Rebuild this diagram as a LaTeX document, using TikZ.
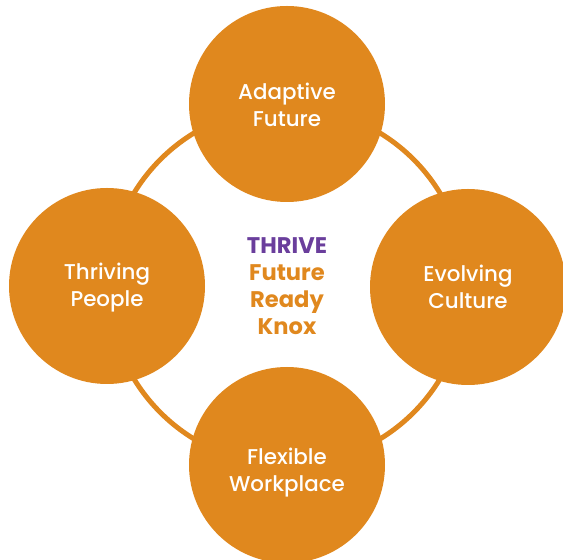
\documentclass[tikz,border=0pt]{standalone}
\usepackage{fontspec}
\setmainfont{Poppins}
\newfontfamily\medfont{Poppins Medium}
\usepackage{xcolor}
\usetikzlibrary{positioning,backgrounds}
\definecolor{knoxorange}{HTML}{E0881E}
\definecolor{knoxpurple}{HTML}{6A3E9C}

\begin{document}
\begin{tikzpicture}[x=0.5pt,y=-0.5pt,
  pillar/.style={circle,fill=knoxorange,minimum size=98pt,inner sep=0pt},
  pillartext/.style={text=white,font=\medfont\fontsize{10.7}{13.5}\selectfont,align=center},
  ring/.style={draw=knoxorange,line width=2.5pt},
  hub/.style={align=center,font=\bfseries\fontsize{11.3}{13.5}\selectfont}
]
\useasboundingbox (0,0) rectangle (563,560);
\coordinate (c) at (287,286);
\draw[ring] (c) circle (89.5pt);
% the four pillars
\node[pillar] (adapt) at (287,104) {};
\node[pillar] (people) at (107,286) {};
\node[pillar] (culture) at (468,287) {};
\node[pillar] (work) at (287,465) {};
\node[pillartext] (adapt-t) at ([yshift=-0.5pt]adapt.center) {Adaptive\\Future};
\node[pillartext] (people-t) at ([yshift=-1pt]people.center) {Thriving\\People};
\node[pillartext] (culture-t) at (culture.center) {Evolving\\Culture};
\node[pillartext] (work-t) at ([yshift=-4pt]work.center) {Flexible\\Workplace};
\node[hub] (mid) at (c) {\textcolor{knoxpurple}{THRIVE}\\\textcolor{knoxorange}{Future}\\\textcolor{knoxorange}{Ready}\\\textcolor{knoxorange}{Knox}};
\end{tikzpicture}
\end{document}
